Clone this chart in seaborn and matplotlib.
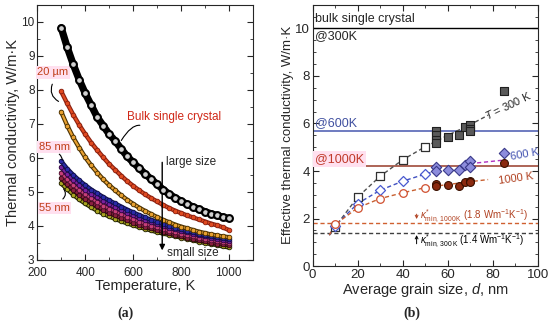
import numpy as np
import pandas as pd
import matplotlib
matplotlib.use("Agg")
import matplotlib.pyplot as plt
import seaborn as sns
from matplotlib.ticker import MultipleLocator

# ---- panel (a): thermal conductivity vs temperature ----
temps = [300, 325, 350, 375, 400, 425, 450, 475, 500, 525, 550, 575, 600, 625, 650,
         675, 700, 725, 750, 775, 800, 825, 850, 875, 900, 925, 950, 975, 1000]
k_bulk = [9.82, 9.25, 8.75, 8.30, 7.90, 7.55, 7.20, 6.95, 6.70, 6.50, 6.27, 6.05, 5.87, 5.70, 5.53,
          5.38, 5.23, 5.07, 4.94, 4.83, 4.73, 4.64, 4.56, 4.49, 4.42, 4.36, 4.31, 4.26, 4.22]
k_20um = [7.95, 7.60, 7.27, 6.97, 6.70, 6.45, 6.23, 6.02, 5.82, 5.65, 5.48, 5.32, 5.18, 5.05, 4.93,
          4.82, 4.72, 4.62, 4.53, 4.45, 4.38, 4.31, 4.25, 4.19, 4.13, 4.07, 4.02, 3.96, 3.88]
k_2 = [7.35, 6.95, 6.60, 6.30, 6.02, 5.78, 5.57, 5.37, 5.20, 5.05, 4.90, 4.77, 4.65, 4.54, 4.44,
       4.35, 4.26, 4.18, 4.11, 4.04, 3.98, 3.93, 3.88, 3.83, 3.79, 3.75, 3.72, 3.69, 3.67]
k_85nm = [5.90, 5.68, 5.50, 5.34, 5.20, 5.07, 4.96, 4.85, 4.75, 4.66, 4.57, 4.48, 4.40, 4.32, 4.25,
          4.18, 4.12, 4.06, 4.00, 3.95, 3.90, 3.85, 3.81, 3.77, 3.73, 3.70, 3.67, 3.64, 3.61]
k_4 = [5.72, 5.52, 5.35, 5.20, 5.07, 4.95, 4.84, 4.74, 4.64, 4.55, 4.47, 4.39, 4.31, 4.24, 4.18,
       4.12, 4.06, 4.00, 3.95, 3.90, 3.85, 3.81, 3.77, 3.73, 3.69, 3.66, 3.62, 3.59, 3.56]
k_5 = [5.56, 5.37, 5.20, 5.06, 4.93, 4.81, 4.70, 4.60, 4.51, 4.43, 4.35, 4.27, 4.20, 4.13, 4.07,
       4.01, 3.96, 3.91, 3.86, 3.81, 3.77, 3.73, 3.69, 3.65, 3.62, 3.58, 3.55, 3.52, 3.50]
k_6 = [5.40, 5.22, 5.06, 4.92, 4.80, 4.68, 4.58, 4.48, 4.39, 4.31, 4.24, 4.17, 4.10, 4.04, 3.98,
       3.93, 3.88, 3.83, 3.78, 3.74, 3.70, 3.66, 3.62, 3.58, 3.55, 3.51, 3.48, 3.46, 3.44]
k_55nm = [5.25, 5.08, 4.92, 4.78, 4.66, 4.55, 4.45, 4.36, 4.28, 4.21, 4.14, 4.08, 4.02, 3.97, 3.92,
          3.87, 3.82, 3.78, 3.74, 3.70, 3.66, 3.62, 3.58, 3.54, 3.50, 3.47, 3.44, 3.40, 3.37]

# ---- panel (b): effective conductivity vs grain size ----
d_open = [10, 20, 30, 40, 50]
k300_open = [1.65, 2.90, 3.78, 4.47, 5.02]
k600_open = [1.70, 2.63, 3.19, 3.57, 3.87]
k1000_open = [1.75, 2.45, 2.84, 3.08, 3.30]

d_sq = [55, 55, 55, 55, 60, 65, 67.5, 70, 70, 70, 85]
k300_fill = [5.68, 5.50, 5.32, 5.18, 5.43, 5.50, 5.85, 5.92, 5.78, 5.67, 7.35]
d_dia = [55, 55, 60, 65, 67.5, 70, 70, 85]
k600_fill = [4.15, 4.00, 4.06, 4.03, 4.27, 4.41, 4.17, 4.76]
d_circ = [55, 55, 60, 65, 67.5, 70, 70, 85]
k1000_fill = [3.45, 3.38, 3.40, 3.37, 3.52, 3.58, 3.55, 4.34]

fit_d = [7.4, 10, 20, 30, 40, 50, 60, 70, 78]
fit_300 = [1.30, 1.65, 2.90, 3.78, 4.47, 5.02, 5.50, 5.95, 6.35]
fit_1000 = [1.30, 1.75, 2.45, 2.84, 3.08, 3.30, 3.43, 3.55, 3.64]
fit600_d = [7.4, 10, 20, 30, 40, 50, 55]
fit_600 = [1.30, 1.70, 2.63, 3.19, 3.57, 3.87, 4.00]
fit600b_d = [70, 84]
fit_600b = [4.31, 4.45]

bulk_300, bulk_600, bulk_1000 = 10.0, 5.67, 4.21
kmin_1000, kmin_300 = 1.8, 1.4

sns.set_style("ticks")
plt.rcParams['font.family'] = ['Liberation Sans', 'DejaVu Sans']
plt.rcParams['mathtext.fontset'] = 'custom'
plt.rcParams['mathtext.rm'] = 'Liberation Sans'
plt.rcParams['mathtext.it'] = 'Liberation Sans:italic'

fig = plt.figure(figsize=(5.5, 3.26), dpi=100)
axA = fig.add_axes([0.0678, 0.2025, 0.3916, 0.7831])
axB = fig.add_axes([0.5685, 0.184, 0.409, 0.8015])

# panel (a) curves: a thick line in the edge colour under dense markers
curves = [
    (k_55nm, '#a8a420', '#202000'),
    (k_6, '#8a2040', '#300810'),
    (k_5, '#c8407a', '#501030'),
    (k_4, '#7a20a0', '#300840'),
    (k_85nm, '#2a2aa8', '#10104a'),
    (k_2, '#e8a030', '#4a3000'),
    (k_20um, '#e04a20', '#8a2010'),
]
for vals, fc, ec in curves:
    sns.lineplot(x=temps, y=vals, ax=axA, color=ec, lw=3.2, zorder=3)
    sns.lineplot(x=temps, y=vals, ax=axA, color=fc, lw=1.6, zorder=3)
    sns.scatterplot(x=temps, y=vals, ax=axA, marker='o', s=11, color=fc,
                    edgecolor=ec, linewidth=0.6, zorder=3)
sns.lineplot(x=temps, y=k_bulk, ax=axA, color='black', lw=5.2, zorder=4)
sns.scatterplot(x=temps, y=k_bulk, ax=axA, marker='o', s=24, color='#d0d0d0',
                edgecolor='black', linewidth=1.5, zorder=4)

axA.set_xlim(200, 1100)
axA.set_ylim(3, 10.5)
axA.xaxis.set_major_locator(MultipleLocator(200))
axA.xaxis.set_minor_locator(MultipleLocator(100))
axA.yaxis.set_major_locator(MultipleLocator(1))
axA.yaxis.set_minor_locator(MultipleLocator(0.5))
axA.set_xlabel('Temperature, K', fontsize=10.5, labelpad=0)
axA.set_ylabel('Thermal conductivity, W/m·K', fontsize=10.5, labelpad=1)

red_txt = '#c0401a'
pink = dict(boxstyle='square,pad=0.1', fc='#ffe0ef', ec='none')
axA.text(265, 8.51, '20 µm', color=red_txt, fontsize=8, ha='center', va='center', bbox=pink)
axA.annotate('', xy=(299, 7.62), xytext=(267, 8.24),
             arrowprops=dict(arrowstyle='-', color='black', lw=0.8,
                             connectionstyle='arc3,rad=0.5'))
axA.text(270, 6.32, '85 nm', color=red_txt, fontsize=8, ha='center', va='center', bbox=pink)
axA.annotate('', xy=(303, 5.85), xytext=(282, 6.15),
             arrowprops=dict(arrowstyle='-', color='black', lw=0.8,
                             connectionstyle='arc3,rad=-0.4'))
axA.text(272, 4.53, '55 nm', color=red_txt, fontsize=8, ha='center', va='center', bbox=pink)
axA.annotate('', xy=(302, 5.15), xytext=(298, 4.74),
             arrowprops=dict(arrowstyle='-', color='black', lw=0.8,
                             connectionstyle='arc3,rad=0.6'))
axA.text(574, 7.2, 'Bulk single crystal', color='#d02818', fontsize=8.5, ha='left', va='center')
axA.annotate('', xy=(640, 6.94), xytext=(545, 6.44),
             arrowprops=dict(arrowstyle='-', color='black', lw=0.8,
                             connectionstyle='angle3,angleA=60,angleB=-20'))
axA.annotate('', xy=(722, 3.2), xytext=(722, 5.95),
             arrowprops=dict(arrowstyle='-|>', color='black', lw=1.0, mutation_scale=8))
axA.text(736, 5.87, 'large size', fontsize=8.5, ha='left', va='center')
axA.text(740, 3.2, 'small size', fontsize=8.5, ha='left', va='center')

# panel (b)
axB.axhline(bulk_300, color='black', lw=1.0)
axB.axhline(bulk_600, color='#5565b5', lw=1.2)
axB.axhline(bulk_1000, color='#a04a3a', lw=1.2)
axB.axhline(kmin_1000, color='#d06030', lw=1.0, ls=(0, (3, 2)))
axB.axhline(kmin_300, color='#404040', lw=1.0, ls=(0, (3, 2)))

sns.lineplot(x=fit_d, y=fit_300, ax=axB, color='#505050', lw=1.0,
             linestyle=(0, (3, 2)), zorder=2)
sns.lineplot(x=fit600_d, y=fit_600, ax=axB, color='#4050c0', lw=1.0,
             linestyle=(0, (3, 2)), zorder=2)
sns.lineplot(x=fit600b_d, y=fit_600b, ax=axB, color='#b030c0', lw=1.0,
             linestyle=(0, (3, 2)), zorder=2)
sns.lineplot(x=fit_d, y=fit_1000, ax=axB, color='#c86030', lw=1.0,
             linestyle=(0, (3, 2)), zorder=2)

sns.scatterplot(x=d_open, y=k300_open, ax=axB, marker='s', s=28, facecolor='white',
                edgecolor='#303030', linewidth=0.9, zorder=4)
sns.scatterplot(x=d_open, y=k600_open, ax=axB, marker='D', s=26, facecolor='white',
                edgecolor='#4a5ad0', linewidth=0.9, zorder=4)
sns.scatterplot(x=d_open, y=k1000_open, ax=axB, marker='o', s=30, facecolor='white',
                edgecolor='#d05030', linewidth=0.9, zorder=4)
sns.scatterplot(x=d_sq, y=k300_fill, ax=axB, marker='s', s=28, color='#5a5a5a',
                edgecolor='#202020', linewidth=0.8, zorder=4)
sns.scatterplot(x=d_dia, y=k600_fill, ax=axB, marker='D', s=28, color='#8c8cdc',
                edgecolor='#383888', linewidth=0.8, zorder=4)
sns.scatterplot(x=d_circ, y=k1000_fill, ax=axB, marker='o', s=32, color='#8b2a10',
                edgecolor='#3a1000', linewidth=0.8, zorder=4)

axB.set_xlim(0, 100)
axB.set_ylim(0, 11)
axB.xaxis.set_major_locator(MultipleLocator(20))
axB.xaxis.set_minor_locator(MultipleLocator(10))
axB.yaxis.set_major_locator(MultipleLocator(2))
axB.yaxis.set_minor_locator(MultipleLocator(0.5))
axB.set_xlabel('Average grain size, $d$, nm', fontsize=10.5, labelpad=0)
axB.set_ylabel('Effective thermal conductivity, W/m·K', fontsize=9.5, labelpad=1)

axB.text(1, 10.38, 'bulk single crystal', fontsize=9, ha='left', va='center')
axB.text(1, 9.7, '@300K', fontsize=9, ha='left', va='center')
axB.text(1, 6.0, '@600K', fontsize=9, color='#4050a0', ha='left', va='center')
axB.text(1, 4.52, '@1000K', fontsize=9, color='#c03a2a', ha='left', va='center',
         bbox=dict(boxstyle='square,pad=0.15', fc='#ffe0ef', ec='none'))
axB.text(86.8, 6.76, '$T$ = 300 K', fontsize=8, rotation=26, ha='center', va='center')
axB.text(94.5, 4.7, '600 K', fontsize=8, color='#4050b0', rotation=10, ha='center', va='center')
axB.text(90.5, 3.7, '1000 K', fontsize=8, color='#b04020', rotation=8, ha='center', va='center')

axB.annotate('', xy=(46.2, 1.86), xytext=(46.2, 2.3),
             arrowprops=dict(arrowstyle='->', color='#b04020', lw=0.7, mutation_scale=5))
axB.text(47.7, 2.07, r'$\kappa^{*}_{\mathrm{min,\,1000\,K}}$ (1.8 Wm$^{-1}$K$^{-1}$)',
         fontsize=7, color='#b04020', ha='left', va='center')
axB.annotate('', xy=(46.2, 1.42), xytext=(46.2, 0.82),
             arrowprops=dict(arrowstyle='->', color='black', lw=0.7, mutation_scale=5))
axB.text(47.5, 1.02, r'$\kappa^{*}_{\mathrm{min,\,300\,K}}$ (1.4 Wm$^{-1}$K$^{-1}$)',
         fontsize=7, color='black', ha='left', va='center')

for ax, fs in ((axA, 8.5), (axB, 9.5)):
    ax.tick_params(which='both', direction='in', top=True, right=True, labelsize=fs, pad=2)
    ax.tick_params(which='major', length=4)
    ax.tick_params(which='minor', length=2)
    for sp in ax.spines.values():
        sp.set_linewidth(0.8)
axA.tick_params(axis='x', pad=5)

fig.text(0.229, 0.04, '(a)', fontsize=10, fontweight='bold', family='Liberation Serif',
         ha='center', va='center')
fig.text(0.749, 0.04, '(b)', fontsize=10, fontweight='bold', family='Liberation Serif',
         ha='center', va='center')

fig.savefig('out.png', dpi=100)
